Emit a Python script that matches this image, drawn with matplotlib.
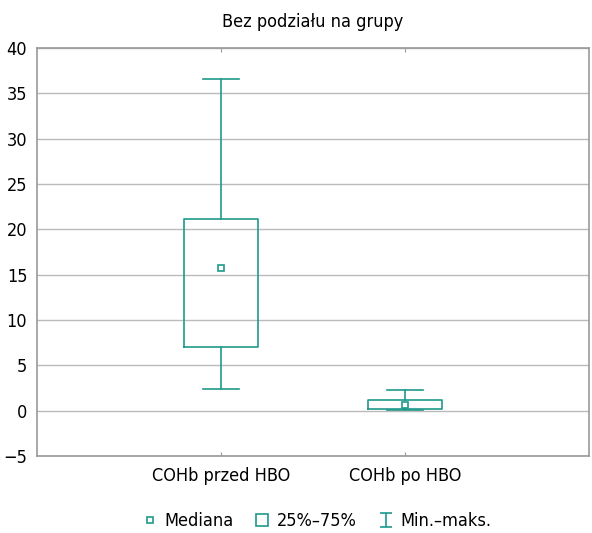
import matplotlib
matplotlib.use("Agg")
from matplotlib import pyplot as plt
from matplotlib.lines import Line2D
from matplotlib.path import Path

plt.rcParams['font.family'] = ['DejaVu Sans']
plt.rcParams['font.stretch'] = 'condensed'
plt.rcParams['axes.unicode_minus'] = True

# dane
grupy = ["COHb przed HBO", "COHb po HBO"]
minimum = [2.4, 0.05]
q1 = [7.0, 0.2]
mediana = [15.7, 0.65]
q3 = [21.1, 1.2]
maksimum = [36.6, 2.3]

kolor = "#1f9a8a"

fig = plt.figure(figsize=(5.92, 5.33), dpi=100)
ax = fig.add_axes([0.0625, 0.1445, 0.9325, 0.7655])

stats = []
for i in range(len(grupy)):
    stats.append({"whislo": minimum[i], "q1": q1[i], "med": mediana[i],
                  "q3": q3[i], "whishi": maksimum[i], "fliers": []})

pos = list(range(1, len(grupy) + 1))
ax.bxp(stats, positions=pos, widths=0.4, showfliers=False,
       boxprops=dict(color=kolor, linewidth=1.2),
       whiskerprops=dict(color=kolor, linewidth=1.2),
       capprops=dict(color=kolor, linewidth=1.2),
       medianprops=dict(linewidth=0),
       capwidths=0.2, zorder=3)
ax.plot(pos, mediana, linestyle="none", marker="s", markersize=4,
        markerfacecolor="white", markeredgecolor=kolor, markeredgewidth=1.2, zorder=4)

ax.set_xlim(0, 3)
ax.set_ylim(-5, 40)
ax.set_yticks(range(-5, 41, 5))
ax.set_xticks(pos)
ax.set_xticklabels(grupy, fontsize=13)
ax.tick_params(axis='y', labelsize=13, length=0, pad=7)
ax.tick_params(axis='x', length=3, color="#999999", top=True, direction="in", pad=8)
ax.grid(axis='y', color="#bbbbbb", linewidth=1)
ax.set_axisbelow(True)
for s in ax.spines.values():
    s.set_color("#999999")
    s.set_linewidth(1.2)

ax.set_title("Bez podziału na grupy", fontsize=13, pad=15)

# symbol wąsów do legendy
ibeam = Path([(-0.8, -1), (0.8, -1), (0, -1), (0, 1), (-0.8, 1), (0.8, 1)],
             [Path.MOVETO, Path.LINETO, Path.MOVETO, Path.LINETO, Path.MOVETO, Path.LINETO])
uchwyty = [
    Line2D([], [], linestyle="none", marker="s", markersize=4, markerfacecolor="white",
           markeredgecolor=kolor, markeredgewidth=1.2),
    Line2D([], [], linestyle="none", marker="s", markersize=9, markerfacecolor="white",
           markeredgecolor=kolor, markeredgewidth=1.2),
    Line2D([], [], linestyle="none", marker=ibeam, markersize=10,
           markeredgecolor=kolor, markerfacecolor="none", markeredgewidth=1.2),
]
fig.legend(uchwyty, ["Mediana", "25%–75%", "Min.–maks."], loc="center",
           bbox_to_anchor=(0.535, 0.022), ncol=3, frameon=False, fontsize=13,
           handlelength=0.8, handletextpad=0.4, columnspacing=1.2)

plt.savefig("out.png", dpi=100)
